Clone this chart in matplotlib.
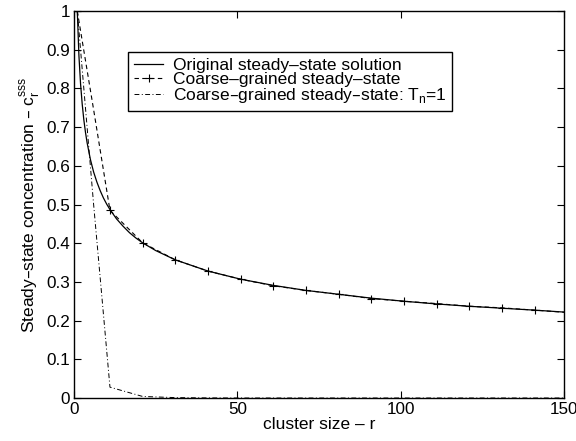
import matplotlib

matplotlib.use("Agg")
import matplotlib.pyplot as plt

plt.rcParams["font.family"] = ["Liberation Sans", "DejaVu Sans"]
plt.rcParams["font.size"] = 12.5

# original steady-state solution
r_orig = [1, 1.5, 2, 2.5, 3, 3.5, 4, 5, 6, 7, 8, 9, 10, 11, 13, 15, 17, 19,
          21, 25, 31, 41, 51, 61, 71, 81, 91, 101, 111, 121, 131, 141, 150]
c_orig = [1.0, 0.885, 0.812, 0.76, 0.719, 0.687, 0.66, 0.617, 0.584, 0.558,
          0.536, 0.517, 0.501, 0.487, 0.463, 0.444, 0.427, 0.413, 0.401,
          0.381, 0.357, 0.328, 0.307, 0.291, 0.278, 0.268, 0.258, 0.250,
          0.243, 0.237, 0.232, 0.227, 0.222]

# coarse-grained steady state (markers at r = 1, 11, 21, ...)
r_cg = [1, 6, 11, 21, 31, 41, 51, 61, 71, 81, 91, 101, 111, 121, 131, 141, 151]
c_cg = [1.0, 0.745, 0.485, 0.401, 0.357, 0.328, 0.307, 0.290, 0.278, 0.268,
        0.257, 0.250, 0.244, 0.237, 0.233, 0.227, 0.221]
cg_marked = [0, 2, 3, 4, 5, 6, 7, 8, 9, 10, 11, 12, 13, 14, 15]

# coarse-grained steady state, T_n = 1
r_tn = [1, 6, 11, 21, 31, 41, 51, 61, 71, 81, 91, 101, 111, 121, 131, 141, 151]
c_tn = [1.0, 0.5, 0.028, 0.004, 0.001, 0.0003, 0.0, 0.0, 0.0, 0.0, 0.0, 0.0,
        0.0, 0.0, 0.0, 0.0, 0.0]

fig = plt.figure(figsize=(5.76, 4.41), dpi=100)
ax = fig.add_axes([0.1285, 0.0975, 0.851, 0.8775])

ax.plot(r_orig, c_orig, color="black", lw=0.9, linestyle="-",
        label="Original steady–state solution")
ax.plot(r_cg, c_cg, color="black", lw=0.8, linestyle=(0, (4, 3)),
        marker="+", markersize=6, markeredgewidth=0.8, markevery=cg_marked,
        label="Coarse–grained steady–state")
ax.plot(r_tn, c_tn, color="black", lw=0.7, linestyle=(0, (5, 2.5, 1, 2.5)),
        label="Coarse–grained steady–state: T$_\\mathregular{n}$=1")

ax.set_xlim(0, 150)
ax.set_ylim(0, 1)
ax.set_xticks([0, 50, 100, 150])
ax.set_yticks([0, 0.1, 0.2, 0.3, 0.4, 0.5, 0.6, 0.7, 0.8, 0.9, 1.0])
ax.set_yticklabels(["0", "0.1", "0.2", "0.3", "0.4", "0.5", "0.6", "0.7",
                    "0.8", "0.9", "1"])
ax.tick_params(direction="in", length=5, width=0.8, top=True, right=True,
               labelsize=12.3, pad=3)
for sp in ax.spines.values():
    sp.set_linewidth(1.0)

ax.set_xlabel("cluster size – r", fontsize=12.5, labelpad=0)
ax.set_ylabel("Steady–state concentration – c$_\\mathregular{r}^\\mathregular{sss}$",
              fontsize=12.5, labelpad=3)

leg = ax.legend(loc="upper left", bbox_to_anchor=(0.2227, 0.8828),
                bbox_transform=fig.transFigure, borderaxespad=0,
                fancybox=False, framealpha=1, edgecolor="black",
                handlelength=1.65, handletextpad=0.55, labelspacing=-0.05,
                borderpad=0.35, fontsize=12.5)
leg.get_frame().set_linewidth(1.0)

fig.savefig("out.png", dpi=100, facecolor="white")
